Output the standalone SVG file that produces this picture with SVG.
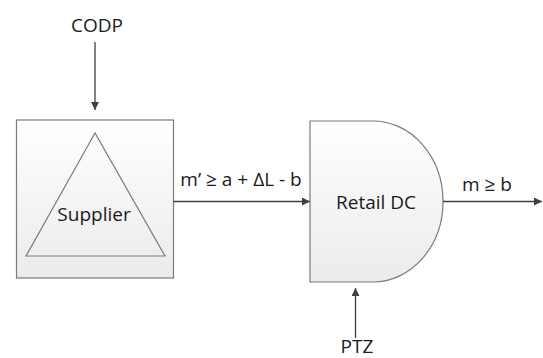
<svg xmlns="http://www.w3.org/2000/svg" width="543" height="358" viewBox="0 0 543 358">
<style>
.lbl{font-family:"Open Sans","Liberation Sans",sans-serif;font-size:19px;fill:#1a1a1a;text-anchor:middle}
.shape{fill:url(#g);stroke:#7a7a7a;stroke-width:1.2}
.tri{fill:none;stroke:#7a7a7a;stroke-width:1.2}
.con{stroke:#404040;stroke-width:1.3;fill:none;marker-end:url(#ah)}
</style>
<defs>
<linearGradient id="g" x1="0" y1="0" x2="0" y2="1">
<stop offset="0" stop-color="#ffffff"/>
<stop offset="1" stop-color="#ebebeb"/>
</linearGradient>
<marker id="ah" viewBox="0 0 10 10" refX="10" refY="5" markerWidth="8" markerHeight="8" markerUnits="userSpaceOnUse" orient="auto">
<path d="M0,0 L10,5 L0,10 z" fill="#404040"/>
</marker>
</defs>
<g id="supplier">
<rect class="shape" x="16.5" y="120" width="157" height="158"/>
<polygon class="tri" points="95,133 26,256 165,256"/>
<text class="lbl" x="94" y="221">Supplier</text>
</g>
<g id="retail-dc">
<path class="shape" d="M310,121 L373,121 A70,80.5 0 0 1 373,282 L310,282 Z"/>
<text class="lbl" x="376" y="209">Retail DC</text>
</g>
<g id="codp">
<text class="lbl" x="97" y="32">CODP</text>
</g>
<g id="ptz">
<text class="lbl" x="357" y="353">PTZ</text>
</g>
<g id="connectors">
<line class="con" x1="95" y1="42" x2="95" y2="110"/>
<line class="con" x1="173.5" y1="201.5" x2="310" y2="201.5"/>
<line class="con" x1="443" y1="201.5" x2="542" y2="201.5"/>
<line class="con" x1="355.5" y1="338" x2="355.5" y2="288"/>
<text class="lbl" x="241" y="186">m’ ≥ a + ΔL - b</text>
<text class="lbl" x="487" y="191">m ≥ b</text>
</g>
</svg>
